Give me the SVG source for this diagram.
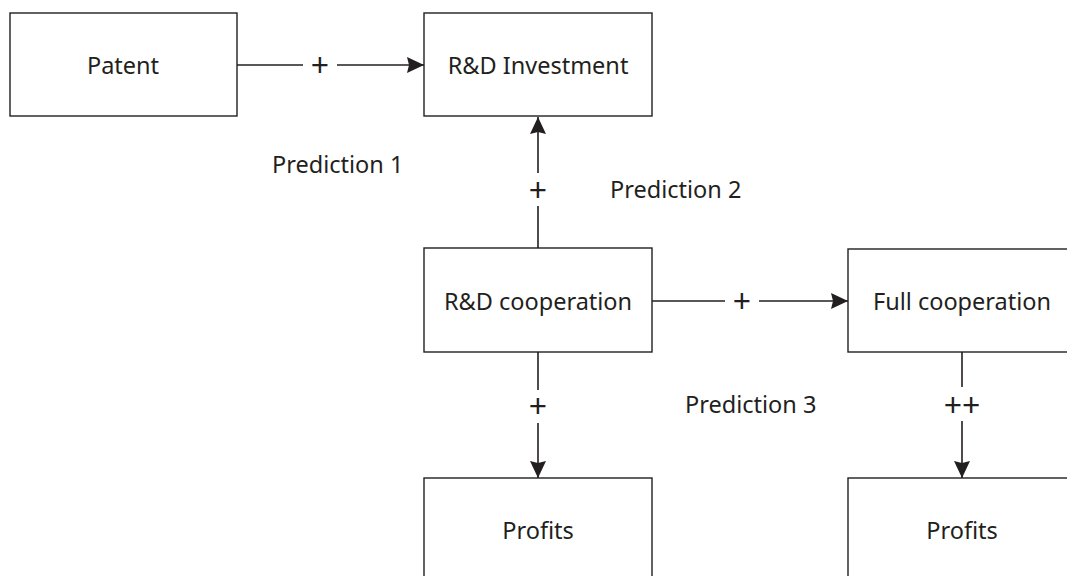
<svg xmlns="http://www.w3.org/2000/svg" width="1067" height="576" viewBox="0 0 1067 576">
<style>
.box{fill:#fff;stroke:#231f20;stroke-width:1.4}
.t{font-family:"Noto Sans","Open Sans",sans-serif;font-size:23.5px;fill:#231f20;text-anchor:middle;dominant-baseline:central}
.p{font-family:"Noto Sans","Open Sans",sans-serif;font-size:32px;fill:#231f20;text-anchor:middle;dominant-baseline:central}
.l{font-family:"Noto Sans","Open Sans",sans-serif;font-size:23.5px;fill:#231f20}
.c{stroke:#231f20;stroke-width:1.6;fill:none}
</style>
<defs>
<marker id="ah" markerWidth="18" markerHeight="16" refX="17" refY="8" orient="auto" markerUnits="userSpaceOnUse">
<path d="M0,0 L17,8 L0,16 L2,8 Z" fill="#231f20"/>
</marker>
</defs>
<rect width="1067" height="576" fill="#fff"/>
<g id="connectors">
<line class="c" x1="237" y1="65" x2="303" y2="65"/>
<line class="c" x1="337" y1="65" x2="424" y2="65" marker-end="url(#ah)"/>
<text class="p" x="320" y="64">+</text>
<line class="c" x1="538" y1="248" x2="538" y2="206"/>
<line class="c" x1="538" y1="173" x2="538" y2="117" marker-end="url(#ah)"/>
<text class="p" x="538" y="189">+</text>
<line class="c" x1="652" y1="301" x2="725" y2="301"/>
<line class="c" x1="759" y1="301" x2="848" y2="301" marker-end="url(#ah)"/>
<text class="p" x="742" y="300">+</text>
<line class="c" x1="538" y1="352" x2="538" y2="390"/>
<line class="c" x1="538" y1="423" x2="538" y2="478" marker-end="url(#ah)"/>
<text class="p" x="538" y="405">+</text>
<line class="c" x1="962" y1="352" x2="962" y2="387"/>
<line class="c" x1="962" y1="421" x2="962" y2="478" marker-end="url(#ah)"/>
<text class="p" x="962" y="404">++</text>
</g>
<g id="labels">
<text class="l" x="272" y="173">Prediction 1</text>
<text class="l" x="610" y="198">Prediction 2</text>
<text class="l" x="685" y="413">Prediction 3</text>
</g>
<g id="patent"><rect class="box" x="10" y="13" width="227" height="103"/><text class="t" x="123" y="65">Patent</text></g>
<g id="rd-investment"><rect class="box" x="424" y="13" width="228" height="103"/><text class="t" x="538" y="65">R&amp;D Investment</text></g>
<g id="rd-cooperation"><rect class="box" x="424" y="248" width="228" height="104"/><text class="t" x="538" y="301">R&amp;D cooperation</text></g>
<g id="full-cooperation"><rect class="box" x="848" y="249" width="230" height="103"/><text class="t" x="962" y="301">Full cooperation</text></g>
<g id="profits-1"><rect class="box" x="424" y="478" width="228" height="110"/><text class="t" x="538" y="530">Profits</text></g>
<g id="profits-2"><rect class="box" x="848" y="478" width="230" height="110"/><text class="t" x="962" y="530">Profits</text></g>
</svg>
